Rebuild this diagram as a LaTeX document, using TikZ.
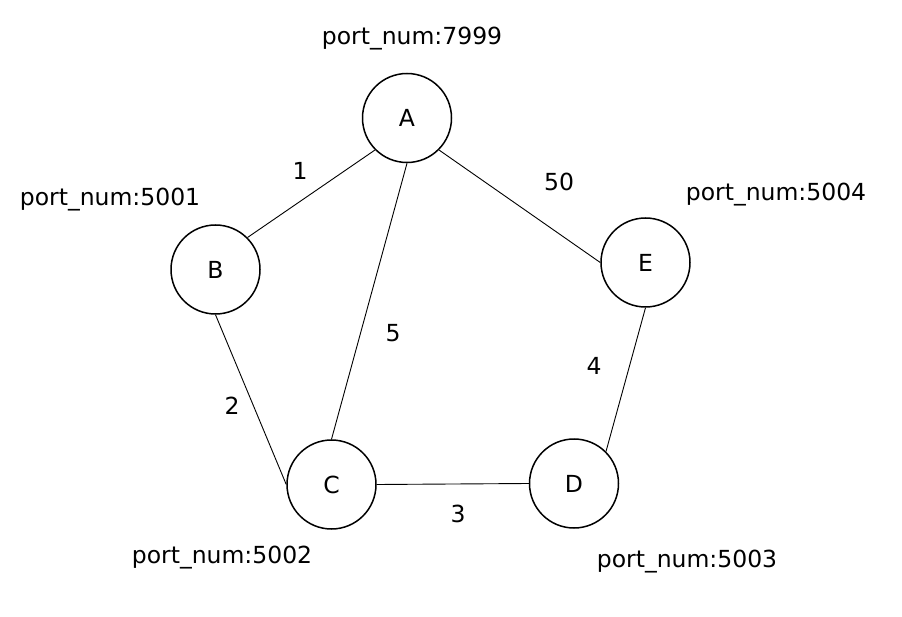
\documentclass[tikz,border=0pt]{standalone}
\usepackage{fontspec}
\setmainfont{DejaVu Sans}
\begin{document}
\begin{tikzpicture}[x=1pt,y=-1pt,
  every node/.style={font=\fontsize{23.5}{28}\selectfont, inner sep=0pt},
  vertex/.style={circle, draw, line width=1.5pt, minimum size=89pt},
  link/.style={draw, line width=0.9pt},
  portlabel/.style={anchor=base},
  weight/.style={anchor=center}]
  \useasboundingbox (0,0) rectangle (902,617);

  % graph vertices
  \node[vertex] (A) at (407,118) {A};
  \node[vertex] (B) at (215.5,269.5) {B};
  \node[vertex] (C) at (331.5,484.5) {C};
  \node[vertex] (D) at (574,483.5) {D};
  \node[vertex] (E) at (645.5,262.5) {E};

  % port numbers
  \node[portlabel] (pA) at (412,45) {port\_num:7999};
  \node[portlabel] (pB) at (110,206) {port\_num:5001};
  \node[portlabel] (pE) at (776,201) {port\_num:5004};
  \node[portlabel] (pC) at (222,563) {port\_num:5002};
  \node[portlabel] (pD) at (687,567) {port\_num:5003};

  % weighted links
  \draw[link] (A.south west) -- (B.north east);
  \draw[link] (A.south) -- (C.north);
  \draw[link] (A.south east) -- (E.west);
  \draw[link] (B.south) -- (C.west);
  \draw[link] (C.east) -- (D.west);
  \draw[link] (D.north east) -- (E.south);

  % link weights
  \node[weight] (w1) at (300,171) {1};
  \node[weight] (w50) at (559,182) {50};
  \node[weight] (w5) at (393,333) {5};
  \node[weight] (w4) at (594,366) {4};
  \node[weight] (w2) at (232,406) {2};
  \node[weight] (w3) at (458,514) {3};
\end{tikzpicture}
\end{document}
